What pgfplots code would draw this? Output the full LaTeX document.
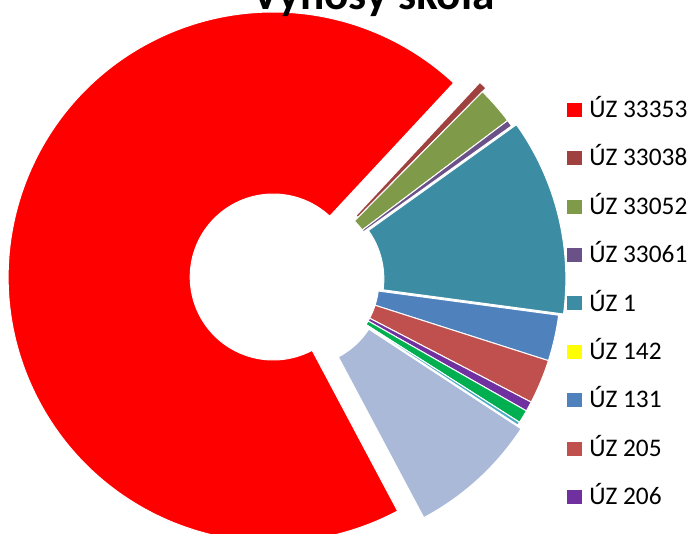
\documentclass[border=0pt]{standalone}
\usepackage{pgfplots}
\pgfplotsset{compat=1.18}
\usepackage{pgfplotstable}
\usepackage{fontspec}
\setmainfont{Carlito}

\definecolor{cA}{HTML}{FF0000}
\definecolor{cB}{HTML}{9F413E}
\definecolor{cC}{HTML}{7F9A48}
\definecolor{cD}{HTML}{6A5288}
\definecolor{cE}{HTML}{3C8CA3}
\definecolor{cF}{HTML}{FFFF00}
\definecolor{cG}{HTML}{4F81BD}
\definecolor{cH}{HTML}{C0504D}
\definecolor{cI}{HTML}{7030A0}
\definecolor{cJ}{HTML}{00B050}
\definecolor{cK}{HTML}{4BACC6}
\definecolor{cL}{HTML}{AAB9D7}

% share (%)  colour  explosion (px)
\pgfplotstableread{
value col explode
69.7 cA 23
0.5  cB 5
2.3  cC 0
0.4  cD 0
12.0 cE 5
0.0  cF 0
2.8  cG 0
2.7  cH 0
0.6  cI 0
0.8  cJ 0
0.2  cK 0
8.0  cL 5
}\slices

\begin{document}
\begin{tikzpicture}
\path[use as bounding box] (0pt,0pt) rectangle (519.75pt,400.5pt);
\clip (0pt,0pt) rectangle (519.75pt,400.5pt);
\begin{axis}[
  at={(0pt,0pt)}, anchor=south west,
  x=0.75pt, y=0.75pt,
  xmin=0, xmax=693, ymin=0, ymax=534,
  axis lines=none, clip=false,
  title={Výnosy škola},
  title style={at={(0.539,0.968)}, anchor=base, inner sep=0pt,
    font=\bfseries\fontsize{34}{34}\selectfont},
  legend image code/.code={\fill[#1] (0pt,-5.25pt) rectangle (11.25pt,5.25pt); \path (16.5pt,0pt);},
  legend style={draw=none, fill=none, at={(0.8182,0.8403)}, anchor=north west,
    inner sep=0pt, font=\fontsize{19}{19}\selectfont, row sep=0pt,
    nodes={inner sep=0pt, text height=24pt, text depth=12.3pt}},
  legend cell align=left,
]
\def\curang{298}
\pgfplotsforeachungrouped \i in {0,...,11}{%
  \pgfplotstablegetelem{\i}{value}\of\slices \let\v\pgfplotsretval
  \pgfplotstablegetelem{\i}{col}\of\slices \let\c\pgfplotsretval
  \pgfplotstablegetelem{\i}{explode}\of\slices \let\d\pgfplotsretval
  \pgfmathsetmacro{\a}{\curang}%
  \pgfmathsetmacro{\b}{\curang-3.6*\v}%
  \pgfmathsetmacro{\m}{(\a+\b)/2}%
  \pgfmathsetmacro{\bb}{\b+180}%
  \pgfmathsetmacro{\dd}{0.75*\d}%
  \let\curang\b
  \ifdim\v pt>0pt
    \edef\temp{\noexpand\fill[\c, draw=white, line width=0.75pt]
      (axis cs:296,254) ++(\m:\dd pt) ++(\a:198.75pt)
      arc[start angle=\a, end angle=\b, radius=198.75pt]
      -- ++(\bb:136.5pt)
      arc[start angle=\b, end angle=\a, radius=62.25pt] -- cycle;}%
    \temp
  \fi
}
\addlegendimage{fill=cA, draw=none}\addlegendentry{ÚZ 33353}
\addlegendimage{fill=cB, draw=none}\addlegendentry{ÚZ 33038}
\addlegendimage{fill=cC, draw=none}\addlegendentry{ÚZ 33052}
\addlegendimage{fill=cD, draw=none}\addlegendentry{ÚZ 33061}
\addlegendimage{fill=cE, draw=none}\addlegendentry{ÚZ 1}
\addlegendimage{fill=cF, draw=none}\addlegendentry{ÚZ 142}
\addlegendimage{fill=cG, draw=none}\addlegendentry{ÚZ 131}
\addlegendimage{fill=cH, draw=none}\addlegendentry{ÚZ 205}
\addlegendimage{fill=cI, draw=none}\addlegendentry{ÚZ 206}
\end{axis}
\end{tikzpicture}
\end{document}
